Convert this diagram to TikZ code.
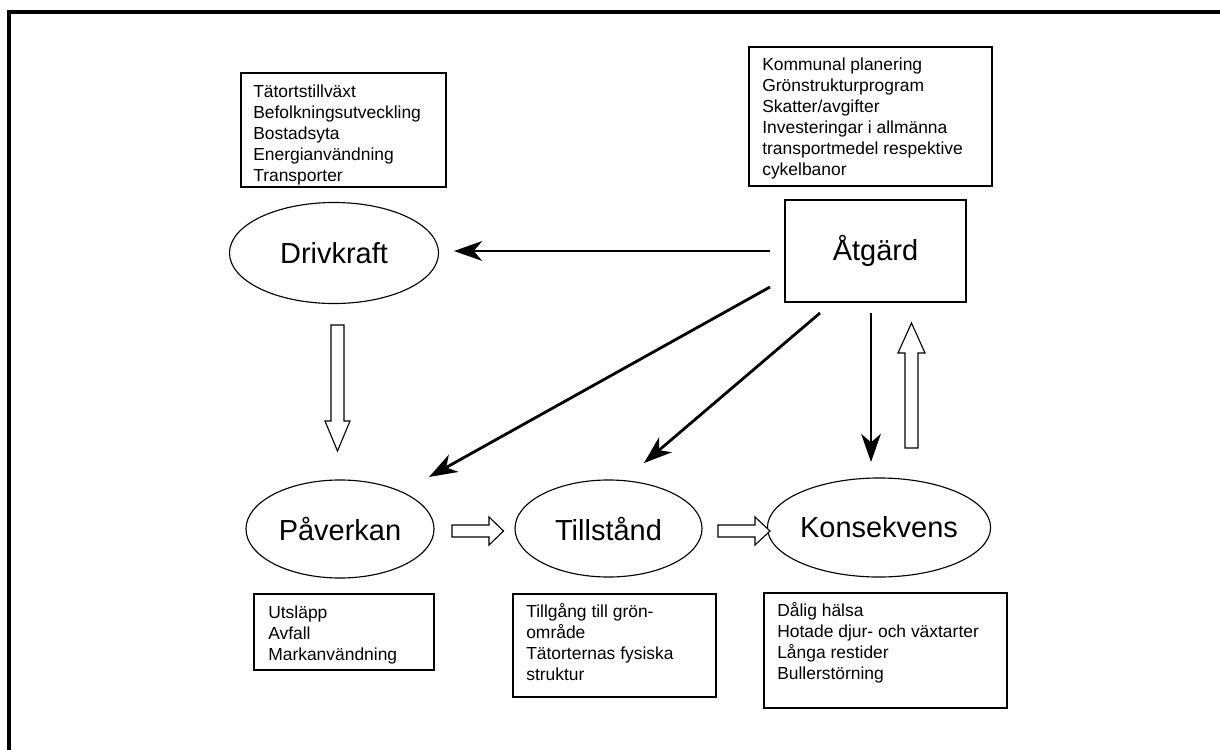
\documentclass[tikz,border=0pt]{standalone}
\usepackage{fontspec}
\setmainfont{Liberation Sans}
\usetikzlibrary{arrows.meta,shapes.geometric}
\newcommand\smallf{\fontsize{12.4}{14.9}\selectfont}
\newcommand\bigf{\fontsize{20.6}{24}\selectfont}
\newcommand\mystrut{\rule{0pt}{12pt}}
\tikzset{
  frameline/.style={line width=2.2pt},
  ell/.style={ellipse, draw, line width=0.8pt, inner sep=0pt, font=\bigf},
  infobox/.style={rectangle, draw, line width=1.1pt, inner sep=0pt, anchor=north west},
  infotext/.style={anchor=north west, inner sep=0pt, align=left, font=\smallf},
  arr/.style={line width=2pt, -{Stealth[length=20pt,width=14pt,inset=6pt]}},
  hollow/.style={draw, line width=0.8pt, fill=white, line join=miter}
}
\begin{document}
\begin{tikzpicture}[x=0.025cm,y=-0.025cm]
\useasboundingbox (0,0) rectangle (1220,749);
% frame
\draw[frameline] (9,760) -- (9,12) -- (1230,12);

% info boxes
\node[infobox, minimum width=5.125cm, minimum height=2.85cm] (bdriv) at (240,72) {};
\node[infotext] (tdriv) at (253,80.1) {\mystrut T\"atortstillv\"axt\\Befolkningsutveckling\\Bostadsyta\\Energianv\"andning\\Transporter};

\node[infobox, minimum width=6.075cm, minimum height=3.475cm] (batg) at (748,46) {};
\node[infotext] (tatg) at (762,53.6) {\mystrut Kommunal planering\\Gr\"onstrukturprogram\\Skatter/avgifter\\Investeringar i allm\"anna\\transportmedel respektive\\cykelbanor};

\node[infobox, minimum width=4.5cm, minimum height=1.9cm] (bpav) at (253,593) {};
\node[infotext] (tpav) at (268,601.6) {\mystrut Utsl\"app\\Avfall\\Markanv\"andning};

\node[infobox, minimum width=5.075cm, minimum height=2.575cm] (btill) at (512,593) {};
\node[infotext] (ttill) at (526,600.8) {\mystrut Tillg\r{a}ng till gr\"on-\\omr\r{a}de\\T\"atorternas fysiska\\struktur};

\node[infobox, minimum width=6.075cm, minimum height=2.875cm] (bkons) at (763,592) {};
\node[infotext] (tkons) at (777,599.8) {\mystrut D\r{a}lig h\"alsa\\Hotade djur- och v\"axtarter\\L\r{a}nga restider\\Bullerst\"orning};

% main nodes
\node[ell, minimum width=5.225cm, minimum height=2.525cm] (driv) at (334,253) {Drivkraft};
\node[ell, minimum width=4.7cm, minimum height=2.45cm] (pav) at (340,529) {P\r{a}verkan};
\node[ell, minimum width=4.675cm, minimum height=2.425cm] (till) at (608.5,528.5) {Tillst\r{a}nd};
\node[ell, minimum width=4.7cm, minimum height=2.475cm] (kons) at (879,527.5) {Konsekvens};
\node[rectangle, draw, line width=0.9pt, inner sep=0pt, minimum width=4.525cm, minimum height=2.55cm, font=\bigf] (atg) at (875.5,251) {\AA tg\"ard};

% arrow end points
\coordinate (a1s) at (770,251);
\coordinate (a1e) at (454,251);
\coordinate (a2s) at (770,287);
\coordinate (a2e) at (429,477);
\coordinate (a3s) at (820,313);
\coordinate (a3e) at (644,463);
\coordinate (a4s) at (871,313);
\coordinate (a4e) at (871,462);

\draw[arr] (a1s) -- (a1e);
\draw[arr] (a2s) -- (a2e);
\draw[arr] (a3s) -- (a3e);
\draw[arr] (a4s) -- (a4e);

% hollow block arrows
\draw[hollow] (331,325) -- (344,325) -- (344,421) -- (350,421) -- (337.5,451) -- (325,421) -- (331,421) -- cycle;
\draw[hollow] (905,448) -- (918,448) -- (918,353) -- (925,353) -- (911.5,323) -- (898,353) -- (905,353) -- cycle;
\draw[hollow] (452,525) -- (489,525) -- (489,517) -- (503.5,531) -- (489,545) -- (489,537) -- (452,537) -- cycle;
\draw[hollow] (718,525) -- (755,525) -- (755,517) -- (770,531) -- (755,545) -- (755,537) -- (718,537) -- cycle;
\end{tikzpicture}
\end{document}
